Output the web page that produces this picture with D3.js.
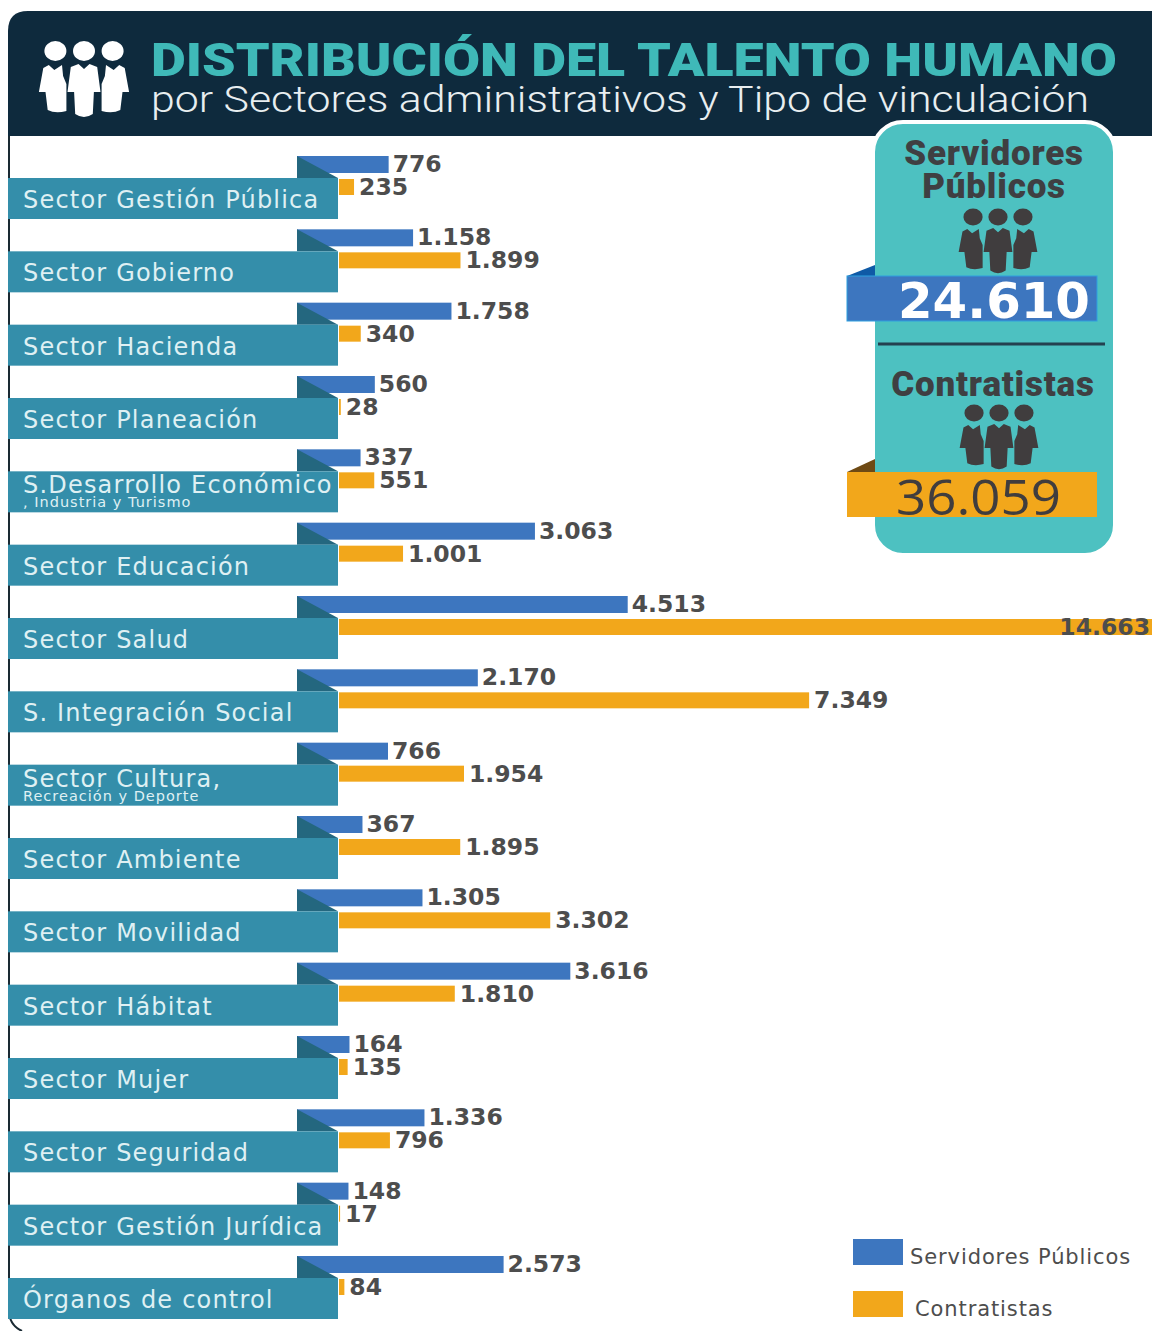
<!DOCTYPE html>
<html>
<head>
<meta charset="utf-8">
<script src="https://cdn.jsdelivr.net/npm/d3@7"></script>
<style>
  html, body { margin: 0; padding: 0; background: #fff; }
  svg { display: block; }
</style>
</head>
<body>
<svg width="1152" height="1331"></svg>
<script>
const categories = ["Sector Gestión Pública", "Sector Gobierno", "Sector Hacienda", "Sector Planeación",
  "S.Desarrollo Económico", "Sector Educación", "Sector Salud", "S. Integración Social",
  "Sector Cultura,", "Sector Ambiente", "Sector Movilidad", "Sector Hábitat",
  "Sector Mujer", "Sector Seguridad", "Sector Gestión Jurídica", "Órganos de control"];
const subLabels = ["", "", "", "", ", Industria y Turismo", "", "", "", "Recreación y Deporte", "", "", "", "", "", "", ""];
const servidores = [776, 1158, 1758, 560, 337, 3063, 4513, 2170, 766, 367, 1305, 3616, 164, 1336, 148, 2573];
const contratistas = [235, 1899, 340, 28, 551, 1001, 14663, 7349, 1954, 1895, 3302, 1810, 135, 796, 17, 84];
const seriesNames = ["Servidores Públicos", "Contratistas"];
const totals = [24610, 36059];

const blue = "#3d76bf", orange = "#f2a71b", bannerColor = "#348eaa", foldColor = "#24677f";
const navy = "#0e2a3d", teal = "#4dc1c1", darkText = "#4d4d4d";

const svg = d3.select("svg");
const width = 1152;

const fmt = d3.formatLocale({ decimal: ",", thousands: ".", grouping: [3], currency: ["", ""] }).format(",d");

// one scale for both series, the longest bar runs off the page like in the original
const x = d3.scaleLinear().domain([0, 14663]).range([339, 1277]);
const y = d3.scalePoint().domain(categories).range([156, 1256]);

const barH = 17, foldW = 42, bannerLeft = 8, bannerTop = 22, bannerH = 41;

// header and frame
svg.append("path")
  .attr("d", "M9,136 V1310 Q9,1325 22,1331")
  .attr("fill", "none").attr("stroke", "#1a2a33").attr("stroke-width", 2);
svg.append("path")
  .attr("d", "M8,136 V31 Q8,11 28,11 H1152 V136 Z")
  .attr("fill", navy);

function people(g, cx, cy, kx, ky, color) {
  const p = g.append("g").attr("transform", `translate(${cx},${cy}) scale(${kx},${ky})`).attr("fill", color);
  [-26, 0, 26].forEach(dx => p.append("circle").attr("cx", dx).attr("cy", -27).attr("r", 10));
  p.append("path").attr("d", "M-5,-14 L0,-9 L5,-14 L12,-11 L15,14 L9,14 L8,36 Q0,42 -8,36 L-9,14 L-15,14 L-12,-11 Z");
  p.append("path").attr("d", "M-20,-13 L-27,-8 L-32,-13 L-37,-10 L-41,14 L-35,14 L-33,32 Q-26,36 -16,33 L-16,6 L-19,-2 Z");
  p.append("path").attr("d", "M20,-13 L27,-8 L32,-13 L37,-10 L41,14 L35,14 L33,32 Q26,36 16,33 L16,6 L19,-2 Z");
}
people(svg, 84, 78, 1.1, 1, "#fff");

svg.append("text").attr("x", 151).attr("y", 76)
  .attr("font-family", "Roboto").attr("font-weight", 900).attr("font-size", 46)
  .attr("fill", "#3fb9b8").attr("textLength", 966).attr("lengthAdjust", "spacingAndGlyphs")
  .text("DISTRIBUCIÓN DEL TALENTO HUMANO");
svg.append("text").attr("x", 151).attr("y", 112)
  .attr("font-family", "Roboto").attr("font-weight", 300).attr("font-size", 37)
  .attr("fill", "#e8eef0").attr("textLength", 938).attr("lengthAdjust", "spacingAndGlyphs")
  .text("por Sectores administrativos y Tipo de vinculación");

// rows
const rows = svg.append("g").selectAll("g").data(categories).join("g")
  .attr("transform", d => `translate(0,${y(d)})`);

rows.append("rect").attr("class", "blue")
  .attr("x", x(0) - foldW).attr("y", 0)
  .attr("width", (d, i) => x(servidores[i]) - x(0) + foldW).attr("height", barH)
  .attr("fill", blue);

rows.append("rect").attr("class", "orange")
  .attr("x", x(0)).attr("y", 23)
  .attr("width", (d, i) => x(contratistas[i]) - x(0)).attr("height", barH - 1)
  .attr("fill", orange);

rows.append("path")
  .attr("d", `M${x(0) - foldW},0 L${x(0) - 1},${bannerTop} H${x(0) - foldW} Z`)
  .attr("fill", foldColor);

rows.append("rect")
  .attr("x", bannerLeft).attr("y", bannerTop)
  .attr("width", x(0) - 1 - bannerLeft).attr("height", bannerH)
  .attr("fill", bannerColor);

rows.append("text")
  .attr("x", 23).attr("y", (d, i) => bannerTop + (subLabels[i] ? 22 : 30))
  .attr("font-family", "DejaVu Sans").attr("font-size", 24).attr("letter-spacing", 1.2)
  .attr("fill", "#dff0f3")
  .text(d => d);

rows.append("text")
  .attr("x", 23).attr("y", bannerTop + 36)
  .attr("font-family", "DejaVu Sans").attr("font-size", 14.5).attr("letter-spacing", 1)
  .attr("fill", "#dff0f3")
  .text((d, i) => subLabels[i]);

function valueLabel(values, top, gap) {
  rows.append("text")
    .attr("x", (d, i) => x(values[i]) > width ? width - 2 : x(values[i]) + gap)
    .attr("y", top)
    .attr("text-anchor", (d, i) => x(values[i]) > width ? "end" : "start")
    .attr("font-family", "DejaVu Sans").attr("font-weight", 700).attr("font-size", 23.5)
    .attr("fill", darkText)
    .text((d, i) => fmt(values[i]));
}
valueLabel(servidores, 16, 4);
valueLabel(contratistas, 39, 5);

// totals panel
const panel = svg.append("g");
panel.append("rect").attr("x", 873).attr("y", 122).attr("width", 242).attr("height", 433)
  .attr("rx", 30).attr("fill", teal).attr("stroke", "#fff").attr("stroke-width", 4);

function panelTitle(txt, cx, base) {
  panel.append("text").attr("x", cx).attr("y", base).attr("text-anchor", "middle")
    .attr("font-family", "Roboto").attr("font-weight", 900).attr("font-size", 35).attr("letter-spacing", 0.8)
    .attr("fill", "#3f3f42").text(txt);
}
panelTitle("Servidores", 994, 165);
panelTitle("Públicos", 994, 198);
panelTitle("Contratistas", 993, 396);
people(panel, 998, 240, 0.96, 0.85, "#403d3e");
people(panel, 999, 436, 0.96, 0.85, "#403d3e");

panel.append("path").attr("d", "M847,276 L875,265 V276 Z").attr("fill", "#0f5aa6");
panel.append("path").attr("d", "M847,472 L875,459 V472 Z").attr("fill", "#6e4a14");
panel.append("rect").attr("x", 847).attr("y", 276).attr("width", 250).attr("height", 45)
  .attr("fill", blue).attr("stroke", "#2f9fe0").attr("stroke-width", 1);
panel.append("rect").attr("x", 847).attr("y", 472).attr("width", 250).attr("height", 45).attr("fill", orange);
panel.append("line").attr("x1", 878).attr("x2", 1105).attr("y1", 344).attr("y2", 344)
  .attr("stroke", "#24414f").attr("stroke-width", 3);

panel.append("text").attr("x", 898).attr("y", 318)
  .attr("font-family", "DejaVu Sans").attr("font-weight", 700).attr("font-size", 50)
  .attr("fill", "#fff").attr("textLength", 192).attr("lengthAdjust", "spacingAndGlyphs")
  .text(fmt(totals[0]));
panel.append("text").attr("x", 896).attr("y", 515)
  .attr("font-family", "Open Sans").attr("font-size", 49)
  .attr("fill", "#403d3e").attr("textLength", 165).attr("lengthAdjust", "spacingAndGlyphs")
  .text(fmt(totals[1]));

// legend
const legend = svg.append("g").selectAll("g").data(seriesNames).join("g")
  .attr("transform", (d, i) => `translate(853,${i === 0 ? 1239 : 1291})`);
legend.append("rect").attr("width", 50).attr("height", 26).attr("fill", (d, i) => i === 0 ? blue : orange);
legend.append("text")
  .attr("x", (d, i) => i === 0 ? 57 : 62).attr("y", 25)
  .attr("font-family", "DejaVu Sans").attr("font-size", 21).attr("letter-spacing", 0.9).attr("fill", darkText)
  .text(d => d);
</script>
</body>
</html>
